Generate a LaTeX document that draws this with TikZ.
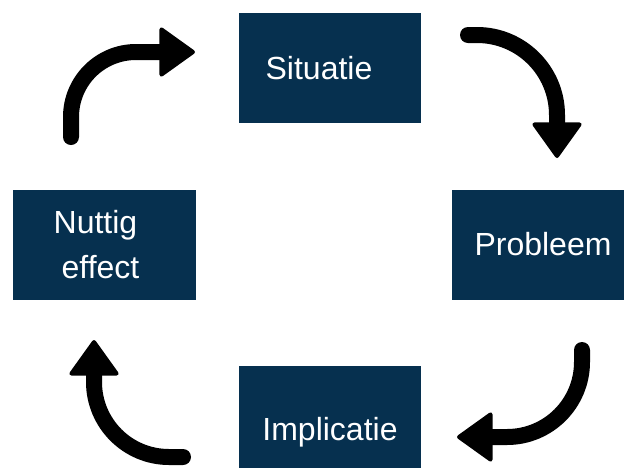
\documentclass[tikz,border=0pt]{standalone}
\usepackage{fontspec}
\setmainfont{Liberation Sans}
\usetikzlibrary{arrows.meta}
\definecolor{navy}{HTML}{06304F}

\begin{document}
\begin{tikzpicture}[x=1pt, y=-1pt, outer sep=0,
        box/.style={rectangle, fill=navy, text=white, inner sep=0, minimum width=182pt, minimum height=110pt, font=\fontsize{32}{45}\selectfont, align=center},
        turn/.style={line width=16pt, line cap=round, -{Triangle[length=37pt, width=52pt, line width=4pt, round]}}]
        \useasboundingbox (0,0) rectangle (624,467);
        % boxes
        \node [box] (sit) at (330,68) {Situatie\hspace*{22pt}};
        \node [box] (prob) at (543,244.5) {Probleem};
        \node [box, minimum height=132pt] (impl) at (330,432) {Implicatie};
        \node [box, minimum width=183pt] (nut) at (104.5,244.5) {Nuttig\hspace*{18pt}\\effect\hspace*{8pt}};
        % turning arrows
        \coordinate (s1) at (71,137);
        \coordinate (e1) at (195,52);
        \coordinate (s2) at (468,35);
        \coordinate (e2) at (557,158);
        \coordinate (s3) at (582,350);
        \coordinate (e3) at (457,437);
        \coordinate (s4) at (183,457);
        \coordinate (e4) at (94,340);
        \draw [turn, rounded corners=65pt] (s1) |- (e1);
        \draw [turn, rounded corners=80pt] (s2) -| (e2);
        \draw [turn, rounded corners=75pt] (s3) |- (e3);
        \draw [turn, rounded corners=75pt] (s4) -| (e4);
    \end{tikzpicture}
\end{document}
